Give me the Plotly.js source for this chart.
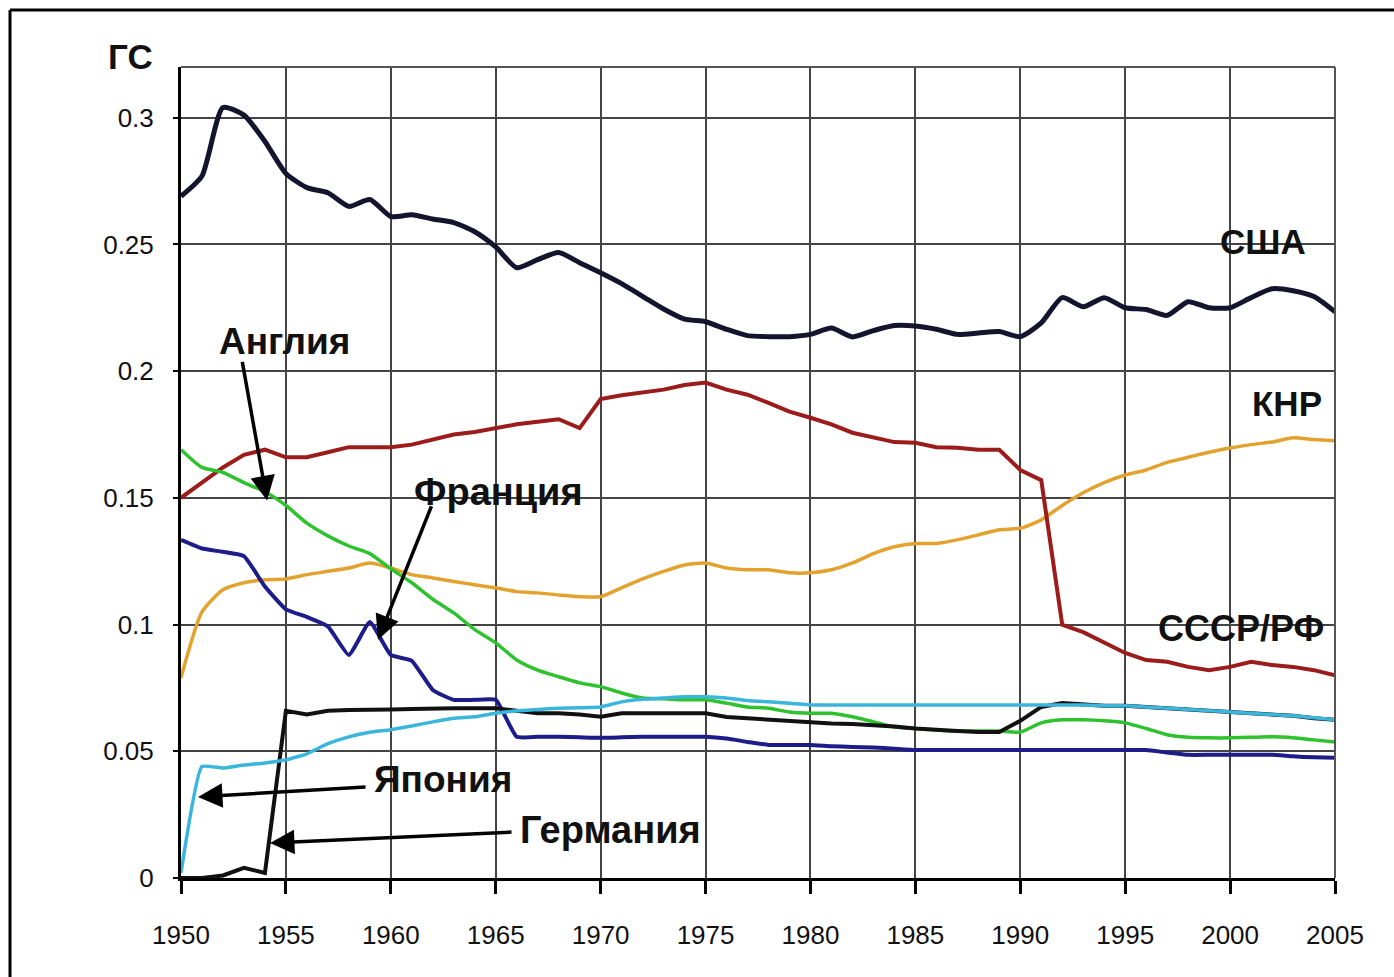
<!DOCTYPE html>
<html>
<head>
<meta charset="utf-8">
<script src="https://cdn.plot.ly/plotly-3.0.1.min.js"></script>
<style>html,body{margin:0;padding:0;background:#fff;}#chart{width:1394px;height:977px;}</style>
</head>
<body>
<div id="chart"></div>
<script>
// ---- data ----
var years = [];
for (var yr = 1950; yr <= 2005; yr++) years.push(yr);

var usa = [
  0.269, 0.277, 0.304, 0.301, 0.2906, 0.278, 0.2724, 0.2704, 0.265, 0.2677,
  0.261, 0.2617, 0.260, 0.2586, 0.255, 0.249, 0.2408, 0.244, 0.2468, 0.2428,
  0.2388, 0.2345, 0.2295, 0.2245, 0.2205, 0.2195, 0.2165, 0.2140, 0.2136, 0.2136,
  0.2145, 0.2170, 0.2135, 0.2160, 0.2180, 0.2178, 0.2165, 0.2145, 0.2150, 0.2156,
  0.2136, 0.2190, 0.2290, 0.2254, 0.2290, 0.2250, 0.2243, 0.2220, 0.2274, 0.2250,
  0.2250, 0.2290, 0.2325, 0.2317, 0.2294, 0.2234
];
var ussr = [
  0.150, 0.156, 0.162, 0.167, 0.169, 0.166, 0.166, 0.168, 0.170, 0.170,
  0.170, 0.171, 0.173, 0.175, 0.176, 0.1775, 0.179, 0.180, 0.181, 0.1775,
  0.189, 0.1905, 0.1915, 0.1927, 0.1945, 0.1955, 0.1927, 0.1907, 0.1875, 0.184,
  0.1816, 0.179, 0.1757, 0.1737, 0.172, 0.1717, 0.170, 0.1698, 0.169, 0.169,
  0.161, 0.157, 0.0999, 0.097, 0.0928, 0.0888, 0.086, 0.0853, 0.0833, 0.082,
  0.0833, 0.0853, 0.084, 0.0833, 0.082, 0.080
];
var china = [
  0.079, 0.105, 0.1137, 0.1165, 0.1177, 0.118, 0.1197, 0.121, 0.1223, 0.1243,
  0.1223, 0.1197, 0.1184, 0.117, 0.1157, 0.1145, 0.113, 0.1125, 0.1117, 0.111,
  0.111, 0.1145, 0.118, 0.121, 0.1235, 0.1243, 0.1223, 0.1216, 0.1216, 0.1204,
  0.1204, 0.1216, 0.1243, 0.128, 0.1307, 0.132, 0.132, 0.1334, 0.1354, 0.1374,
  0.138, 0.1413, 0.147, 0.152, 0.156, 0.159, 0.161, 0.164, 0.166, 0.168,
  0.1697, 0.171, 0.172, 0.1737, 0.173, 0.1725
];
var england = [
  0.169, 0.162, 0.160, 0.156, 0.1524, 0.147, 0.140, 0.135, 0.131, 0.128,
  0.122, 0.1165, 0.110, 0.1046, 0.098, 0.0928, 0.086, 0.082, 0.0794, 0.077,
  0.0755, 0.073, 0.071, 0.0707, 0.0703, 0.0703, 0.069, 0.0675, 0.067, 0.0655,
  0.065, 0.065, 0.0636, 0.0616, 0.0596, 0.059, 0.0584, 0.058, 0.058, 0.058,
  0.0576, 0.0612, 0.0624, 0.0624, 0.062, 0.0612, 0.059, 0.0565, 0.0555, 0.0553,
  0.0553, 0.0555, 0.0557, 0.0553, 0.0545, 0.0537
];
var france = [
  0.1334, 0.130, 0.1287, 0.127, 0.115, 0.106, 0.103, 0.0993, 0.088, 0.101,
  0.088, 0.0857, 0.0742, 0.0703, 0.0703, 0.0703, 0.0557, 0.0557, 0.0557, 0.0555,
  0.0553, 0.0555, 0.0557, 0.0557, 0.0557, 0.0557, 0.0550, 0.0537, 0.0525, 0.0525,
  0.0525, 0.0520, 0.0517, 0.0515, 0.0510, 0.0505, 0.0505, 0.0505, 0.0505, 0.0505,
  0.0505, 0.0505, 0.0505, 0.0505, 0.0505, 0.0505, 0.0505, 0.0495, 0.0486, 0.0486,
  0.0486, 0.0486, 0.0486, 0.0480, 0.0476, 0.0474
];
var germany = [
  0, 0, 0.001, 0.004, 0.002, 0.066, 0.0645, 0.066, 0.0663, 0.0663,
  0.0665, 0.0667, 0.067, 0.067, 0.067, 0.067, 0.066, 0.065, 0.065, 0.0645,
  0.0636, 0.065, 0.065, 0.065, 0.065, 0.065, 0.0635, 0.063, 0.0624, 0.062,
  0.0612, 0.061, 0.0608, 0.0604, 0.0598, 0.059, 0.0584, 0.058, 0.0576, 0.0576,
  0.0620, 0.0675, 0.069, 0.0685, 0.068, 0.068, 0.0675, 0.067, 0.0665, 0.066,
  0.0655, 0.065, 0.0645, 0.064, 0.063, 0.0624
];
var japan = [
  0.002, 0.044, 0.0434, 0.0446, 0.0454, 0.0466, 0.049, 0.053, 0.0557, 0.0575,
  0.0585, 0.060, 0.0616, 0.063, 0.0636, 0.065, 0.066, 0.0665, 0.067, 0.0672,
  0.0675, 0.0695, 0.0705, 0.071, 0.0715, 0.0715, 0.071, 0.070, 0.0695, 0.069,
  0.0683, 0.0683, 0.0683, 0.0683, 0.0683, 0.0683, 0.0683, 0.0683, 0.0683, 0.0683,
  0.0683, 0.0683, 0.0683, 0.0683, 0.068, 0.068, 0.0675, 0.067, 0.0665, 0.066,
  0.0655, 0.065, 0.0645, 0.064, 0.0632, 0.0624
];
var xTicks = [1950, 1955, 1960, 1965, 1970, 1975, 1980, 1985, 1990, 1995, 2000, 2005];
var yTickVals = [0, 0.05, 0.1, 0.15, 0.2, 0.25, 0.3];
var yTickText = ['0', '0.05', '0.1', '0.15', '0.2', '0.25', '0.3'];

// ---- layout helpers (pixel -> paper) ----
var L = 181, R = 1335, T = 67, B = 878;
function px(x) { return (x - L) / (R - L); }
function py(y) { return (B - y) / (B - T); }

function tr(y, color, width, shape, sm) {
  return {x: years, y: y, type: 'scatter', mode: 'lines',
    line: {color: color, width: width, shape: shape || 'linear', smoothing: sm || 0.6},
    hoverinfo: 'skip', showlegend: false, cliponaxis: true};
}

var data = [
  tr(china, '#e3a22e', 3.5, 'spline'),
  tr(ussr, '#9c1c1c', 4),
  tr(england, '#2ec22e', 3.5, 'spline'),
  tr(france, '#1c1c8a', 4, 'spline', 0.4),
  tr(germany, '#111111', 4),
  tr(japan, '#3ab6dc', 3.5, 'spline', 0.4),
  tr(usa, '#14142e', 5, 'spline')
];

var fam = 'Liberation Sans, Arial, sans-serif';
function lbl(text, x, y, size) {
  return {xref: 'paper', yref: 'paper', x: px(x), y: py(y), text: '<b>' + text + '</b>',
    showarrow: false, font: {family: fam, size: size, color: '#111'},
    xanchor: 'center', yanchor: 'middle'};
}
function arr(xd, yd, ax, ay) {
  return {xref: 'x', yref: 'y', x: xd, y: yd, text: '', showarrow: true,
    ax: ax, ay: ay, arrowhead: 2, arrowsize: 1.4, arrowwidth: 3.5, arrowcolor: '#000', standoff: 0};
}

var annotations = [
  lbl('ГС', 130, 56, 35),
  lbl('США', 1263, 241, 35),
  lbl('КНР', 1287, 404, 35),
  lbl('СССР/РФ', 1241, 628, 36),
  lbl('Англия', 284, 341, 37),
  lbl('Франция', 498, 492, 38),
  lbl('Япония', 443, 779, 37),
  lbl('Германия', 610, 830, 38),
  arr(1954.10, 0.149, -25, -140),
  arr(1959.39, 0.094, 54, -135),
  arr(1950.81, 0.032, 169, -10),
  arr(1954.24, 0.0138, 243, -11)
];

var shapes = [
  {type: 'line', xref: 'paper', yref: 'paper', x0: px(10), x1: px(1400), y0: py(10), y1: py(10),
   line: {color: '#000', width: 3}},
  {type: 'line', xref: 'paper', yref: 'paper', x0: px(10), x1: px(10), y0: py(10), y1: py(990),
   line: {color: '#000', width: 3}},
  {type: 'line', xref: 'paper', yref: 'paper', x0: 0, x1: 1, y0: 1, y1: 1,
   line: {color: '#555', width: 2}},
  {type: 'line', xref: 'paper', yref: 'paper', x0: 1, x1: 1, y0: 0, y1: 1,
   line: {color: '#555', width: 2}}
];

var tickFont = {family: fam, size: 26, color: '#111'};

var layout = {
  width: 1394, height: 977,
  margin: {l: L, r: 1394 - R, t: T, b: 977 - B},
  paper_bgcolor: '#fff', plot_bgcolor: '#fff',
  showlegend: false,
  xaxis: {
    range: [1950, 2005], tickmode: 'array', tickvals: xTicks,
    ticktext: xTicks.map(String),
    showgrid: true, gridcolor: '#444', gridwidth: 2,
    zeroline: false, showline: true, linecolor: '#000', linewidth: 3,
    ticks: 'outside', ticklen: 13, tickwidth: 3, tickcolor: '#000',
    tickfont: tickFont, ticklabelstandoff: 19, fixedrange: true
  },
  yaxis: {
    range: [0, 0.32], tickmode: 'array', tickvals: yTickVals, ticktext: yTickText,
    showgrid: true, gridcolor: '#444', gridwidth: 2,
    zeroline: false, showline: true, linecolor: '#000', linewidth: 3,
    ticks: 'outside', ticklen: 5, tickwidth: 2, tickcolor: '#000',
    tickfont: tickFont, ticklabelstandoff: 14, fixedrange: true
  },
  annotations: annotations,
  shapes: shapes
};

Plotly.newPlot('chart', data, layout, {staticPlot: true, displayModeBar: false});
</script>
</body>
</html>
